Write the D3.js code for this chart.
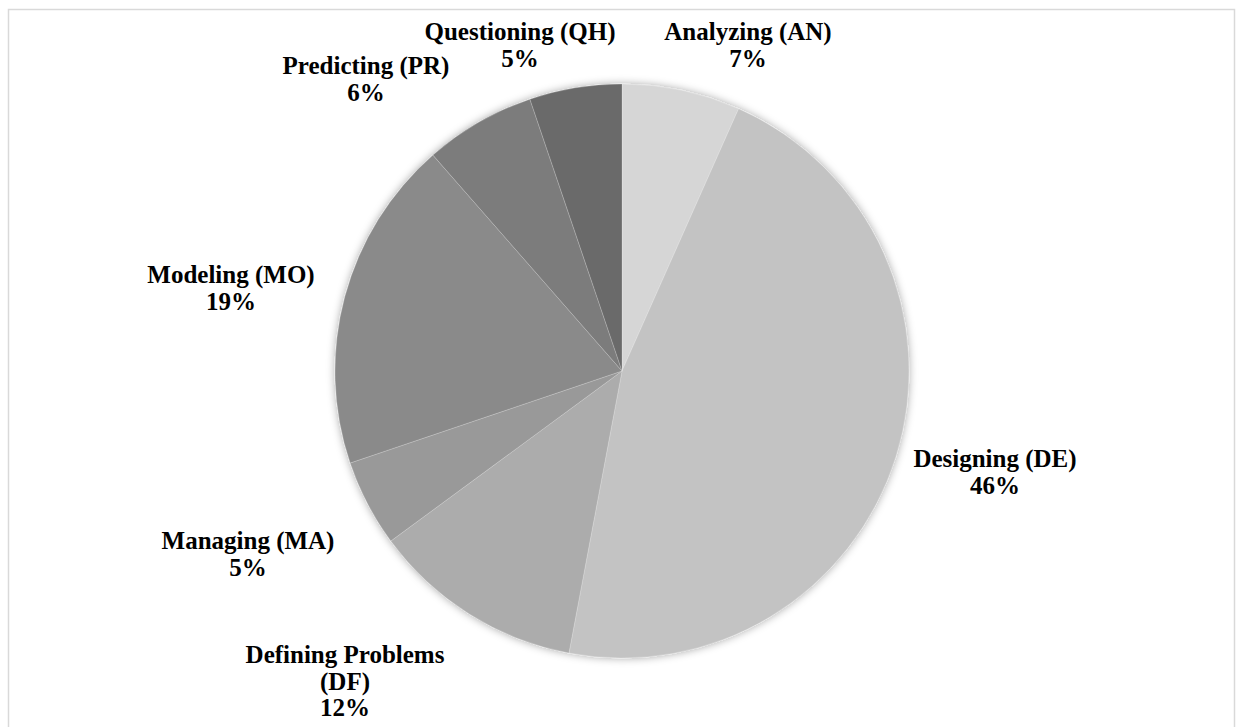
<!DOCTYPE html>
<html>
<head>
<meta charset="utf-8">
<script src="https://cdn.jsdelivr.net/npm/d3@7"></script>
<style>
    body { margin: 0; background: #fff; }
    svg { display: block; }
    .lbl { font-family: "Liberation Serif", "Times New Roman", serif; font-weight: bold; font-size: 25px; fill: #000; }
</style>
</head>
<body>
<svg id="chart" width="1236" height="727"></svg>
<script>
// practice categories, clockwise from 12 o'clock
var categories = ["Analyzing (AN)", "Designing (DE)", "Defining Problems (DF)", "Managing (MA)",
    "Modeling (MO)", "Predicting (PR)", "Questioning (QH)"];
var shares = [6.66, 46.31, 11.95, 4.9, 18.75, 6.25, 5.2];
var fills = ["#d6d6d6", "#c3c3c3", "#acacac", "#999999", "#8a8a8a", "#7b7b7b", "#6a6a6a"];

// label lines (category split how the picture wraps them) and where they sit
var labelLines = [
    ["Analyzing (AN)"], ["Designing (DE)"], ["Defining Problems", "(DF)"], ["Managing (MA)"],
    ["Modeling (MO)"], ["Predicting (PR)"], ["Questioning (QH)"]
];
var labelPos = [[748, 40], [995, 467], [345, 663], [248, 549], [231, 283], [366, 74], [520, 40]];

var setting = {cx: 622, cy: 371, radius: 287, lineHeight: 26.5};

var svg = d3.select("#chart");

// light frame round the chart area
svg.append("rect")
    .attr("x", 8.5).attr("y", 9.5)
    .attr("width", 1226).attr("height", 740)
    .attr("fill", "none")
    .attr("stroke", "#d9d9d9")
    .attr("stroke-width", 1.5);

// soft shadow behind the pie
var defs = svg.append("defs");
var flt = defs.append("filter").attr("id", "glow")
    .attr("x", "-10%").attr("y", "-10%").attr("width", "120%").attr("height", "120%");
flt.append("feDropShadow")
    .attr("dx", 0).attr("dy", 0)
    .attr("stdDeviation", 4)
    .attr("flood-color", "#000")
    .attr("flood-opacity", 0.35);

var data = categories.map(function (c, i) {
    return {name: c, value: shares[i], fill: fills[i], lines: labelLines[i], pos: labelPos[i]};
});

var pie = d3.pie().sort(null).value(function (d) { return d.value; });
var arc = d3.arc().innerRadius(0).outerRadius(setting.radius);

var g = svg.append("g")
    .attr("transform", "translate(" + setting.cx + "," + setting.cy + ")");

g.append("g")
    .attr("filter", "url(#glow)")
    .selectAll("path")
    .data(pie(data))
    .enter()
    .append("path")
    .attr("d", arc)
    .attr("fill", function (d) { return d.data.fill; })
    .attr("stroke", "#ffffff")
    .attr("stroke-opacity", 0.35)
    .attr("stroke-width", 0.6);

var fmt = d3.format(".0%");

// labels: category lines then the rounded share
var labels = svg.append("g").selectAll("text")
    .data(data)
    .enter()
    .append("text")
    .attr("class", "lbl")
    .attr("text-anchor", "middle")
    .attr("x", function (d) { return d.pos[0]; })
    .attr("y", function (d) { return d.pos[1]; });

labels.each(function (d) {
    var t = d3.select(this);
    var lines = d.lines.concat([fmt(d.value / 100)]);
    for (var i = 0; i < lines.length; i++) {
        t.append("tspan")
            .attr("x", d.pos[0])
            .attr("dy", i === 0 ? 0 : setting.lineHeight)
            .text(lines[i]);
    }
});
</script>
</body>
</html>
